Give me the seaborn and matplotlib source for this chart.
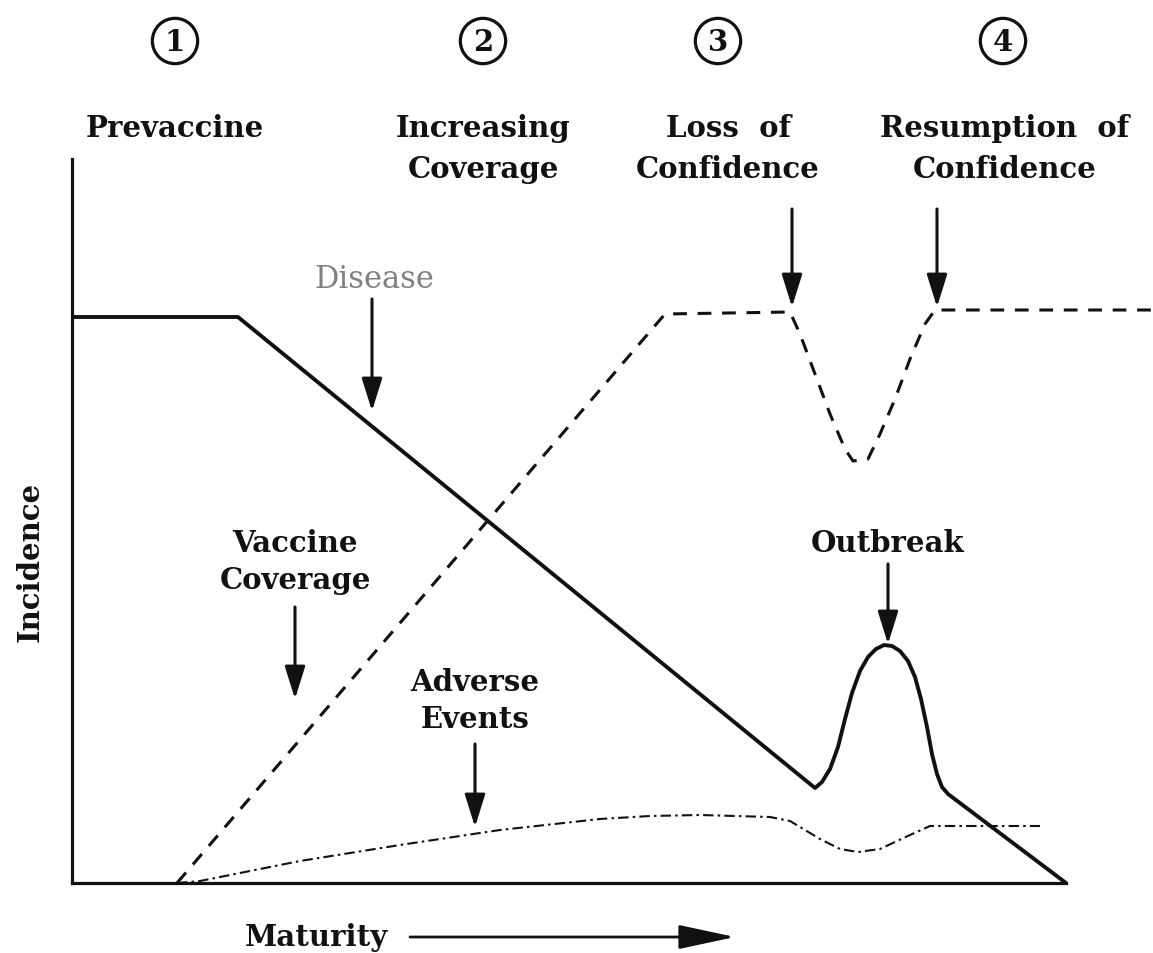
import numpy as np
import pandas as pd
import matplotlib
matplotlib.use("Agg")
import matplotlib.pyplot as plt
import seaborn as sns

sns.set_theme(style="white")
plt.rcParams['font.family'] = ['DejaVu Serif']

# ---- data (pixel positions; baseline at y=884, left axis at x=72) ----
disease_px = [72, 238, 815, 822, 830, 838, 845, 852, 860, 868, 876, 884, 892, 900, 908, 915, 921, 927, 932, 937, 942, 948, 1066]
disease_py = [318, 318, 789, 783, 770, 748, 720, 694, 672, 658, 650, 646, 647, 652, 662, 678, 700, 728, 755, 775, 788, 795, 884]

coverage_px = [177, 665, 790, 800, 815, 830, 845, 853, 868, 880, 895, 910, 925, 935, 1153]
coverage_py = [884, 315, 313, 335, 375, 415, 450, 462, 460, 435, 400, 360, 325, 311, 311]

adverse_px = [177, 200, 250, 300, 400, 500, 600, 650, 700, 770, 790, 820, 840, 858, 880, 910, 930, 1040]
adverse_py = [884, 882, 872, 862, 846, 831, 820, 817, 816, 818, 822, 840, 850, 853, 850, 836, 827, 827]

phase_numbers = ["1", "2", "3", "4"]
phase_x = [175, 483, 718, 1003]
phase_labels = ["Prevaccine", "Increasing\nCoverage", "Loss  of\nConfidence", "Resumption  of\nConfidence"]
phase_label_x = [175, 483, 728, 1005]

X0, Y0 = 72, 884

def to_data(px, py):
    return np.array(px, float) - X0, Y0 - np.array(py, float)

dx, dy = to_data(disease_px, disease_py)
cx, cy = to_data(coverage_px, coverage_py)
ax_, ay_ = to_data(adverse_px, adverse_py)

df_d = pd.DataFrame({"Maturity": dx, "Incidence": dy})
df_c = pd.DataFrame({"Maturity": cx, "Incidence": cy})
df_a = pd.DataFrame({"Maturity": ax_, "Incidence": ay_})

W, H = 1153, 954
fig = plt.figure(figsize=(W / 100, H / 100), dpi=100)
ax = fig.add_axes([X0 / W, (H - Y0) / H, (W - X0) / W, (Y0 - 160) / H])
ax.set_xlim(0, W - X0)
ax.set_ylim(0, Y0 - 160)

sns.lineplot(data=df_d, x="Maturity", y="Incidence", sort=False, color="#111111", lw=2.8, ax=ax)
sns.lineplot(data=df_c, x="Maturity", y="Incidence", sort=False, color="#111111", lw=2.2,
             ax=ax).lines[-1].set_dashes((4.5, 3.5))
l = sns.lineplot(data=df_a, x="Maturity", y="Incidence", sort=False, color="#111111", lw=1.5, ax=ax).lines[-1]
l.set_dashes((5, 2, 1.2, 2))

for s in ["top", "right"]:
    ax.spines[s].set_visible(False)
for s in ["left", "bottom"]:
    ax.spines[s].set_linewidth(2.3)
    ax.spines[s].set_color("#111111")
ax.spines["bottom"].set_bounds(0, 1066 - X0)
ax.set_xticks([])
ax.set_yticks([])
ax.set_xlabel("")
ax.set_ylabel("")

def P(px, py):
    return (px - X0, Y0 - py)

FS = 21
bold = dict(fontsize=FS, fontweight="bold", color="#111111", ha="center", va="center",
            clip_on=False, linespacing=1.35)

# header phase numbers and labels
for n, x in zip(phase_numbers, phase_x):
    ax.text(*P(x, 42), n, fontsize=21, fontweight="bold", ha="center", va="center", clip_on=False,
            color="#111111",
            bbox=dict(boxstyle="circle,pad=0.28", fc="white", ec="#111111", lw=2.3))
hdr = dict(bold, linespacing=1.5, va="top")
for lab, x in zip(phase_labels, phase_label_x):
    ax.text(*P(x, 114), lab, **hdr)

# annotation arrows
arrow_kw = dict(arrowstyle="-|>,head_length=0.8,head_width=0.25", lw=2.2, color="#111111",
                mutation_scale=25, shrinkA=0, shrinkB=0)

def arrow(x, y0, y1):
    ax.annotate("", xy=P(x, y1), xytext=P(x, y0), arrowprops=arrow_kw, annotation_clip=False)

arrow(792, 210, 308)
arrow(937, 210, 308)
arrow(372, 300, 412)
arrow(295, 608, 700)
arrow(475, 745, 828)
arrow(888, 565, 645)

ax.text(*P(374, 280), "Disease", fontsize=22, color="#808080", ha="center", va="center", clip_on=False)
ax.text(*P(295, 562), "Vaccine\nCoverage", **bold)
ax.text(*P(475, 701), "Adverse\nEvents", **bold)
ax.text(*P(888, 543), "Outbreak", **bold)

# axis titles
ax.text(*P(30, 562), "Incidence", rotation=90, **bold)
ax.text(*P(316, 938), "Maturity", **bold)
ax.annotate("", xy=P(735, 938), xytext=P(410, 938), annotation_clip=False,
            arrowprops=dict(arrowstyle="-|>,head_length=1.4,head_width=0.3", lw=2.0, color="#111111",
                            mutation_scale=25, shrinkA=0, shrinkB=0))

fig.savefig("out.png", dpi=100, facecolor="white")
